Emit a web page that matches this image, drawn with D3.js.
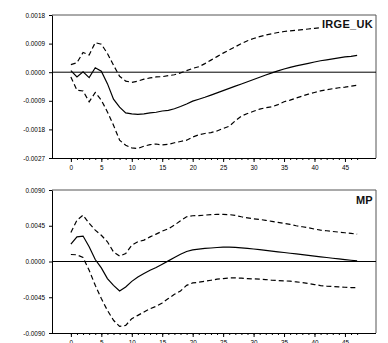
<!DOCTYPE html>
<html>
<head>
<meta charset="utf-8">
<script src="https://cdn.jsdelivr.net/npm/d3@7"></script>
<style>
  body { margin: 0; background: #fff; }
  svg { display: block; }
  .tick text { font-family: "Liberation Sans", Arial, sans-serif; font-size: 6.4px; fill: #000; }
</style>
</head>
<body>
<div id="chart"></div>
<script>
// horizon steps 0..47
var horizon = d3.range(0, 48);
var xTickLabels = [0, 5, 10, 15, 20, 25, 30, 35, 40, 45];

// IRGE_UK response with bands
var irgeMid = [0.00005, -0.00015, 0.00001, -0.00017, 0.00014, 0.00003, -0.00036, -0.00085, -0.0011, -0.00128,
  -0.00131, -0.00133, -0.00131, -0.00128, -0.00126, -0.00122, -0.0012, -0.00115, -0.00108, -0.001,
  -0.00091, -0.00085, -0.00079, -0.00072, -0.00065, -0.00058, -0.00051, -0.00044, -0.00037, -0.0003,
  -0.00023, -0.00016, -0.00009, -0.00002, 0.00004, 0.0001, 0.00015, 0.0002, 0.00024, 0.00028,
  0.00032, 0.00036, 0.00039, 0.00042, 0.00045, 0.00048, 0.0005, 0.00053];
var irgeUp = [0.00024, 0.0003, 0.00062, 0.00054, 0.00093, 0.00088, 0.00059, 0.00022, -0.00013, -0.00028,
  -0.00032, -0.00028, -0.00022, -0.00018, -0.00015, -0.00014, -0.00011, -0.00008, -0.00002, 0.00005,
  0.00012, 0.00017, 0.00027, 0.00038, 0.00049, 0.0006, 0.0007, 0.0008, 0.0009, 0.00099,
  0.00106, 0.00112, 0.00117, 0.00121, 0.00125, 0.00128, 0.0013, 0.00132, 0.00134, 0.00136,
  0.00138, 0.0014, 0.00142, 0.00144, 0.00146, 0.00147, 0.00148, 0.00149];
var irgeLo = [-0.00015, -0.00057, -0.00059, -0.00093, -0.00064, -0.00088, -0.00125, -0.00167, -0.00214, -0.0023,
  -0.00238, -0.0024, -0.00233, -0.00228, -0.00226, -0.00229, -0.00227, -0.00222, -0.00218, -0.00214,
  -0.00204, -0.00197, -0.00193, -0.0019, -0.00185, -0.00177, -0.0017, -0.00153, -0.00138, -0.0013,
  -0.00123, -0.00116, -0.00112, -0.00109, -0.00102, -0.00093, -0.00088, -0.00081, -0.00075, -0.00069,
  -0.00064, -0.00059, -0.00055, -0.00052, -0.00049, -0.00047, -0.00044, -0.00041];

// MP response with bands
var mpMid = [0.00218, 0.0031, 0.0032, 0.00185, 0.00025, -0.0008, -0.00215, -0.003, -0.0037, -0.0032,
  -0.0025, -0.00194, -0.0015, -0.0011, -0.00076, -0.00034, 0.00008, 0.0005, 0.00092, 0.00126,
  0.00146, 0.00155, 0.00164, 0.0017, 0.00176, 0.0018, 0.00182, 0.00178, 0.00172, 0.00165,
  0.00157, 0.00149, 0.0014, 0.00131, 0.00122, 0.00113, 0.00104, 0.00095, 0.00086, 0.00077,
  0.00068, 0.00059, 0.0005, 0.00041, 0.00032, 0.00024, 0.00016, 0.00008];
var mpUp = [0.00366, 0.0052, 0.00584, 0.0048, 0.00395, 0.0033, 0.00248, 0.0012, 0.00067, 0.001,
  0.00206, 0.00248, 0.00269, 0.0031, 0.00345, 0.00382, 0.00412, 0.00458, 0.00512, 0.00563,
  0.00576, 0.00578, 0.00584, 0.0059, 0.00593, 0.00593, 0.0059, 0.0058, 0.00563, 0.0055,
  0.00538, 0.0053, 0.00518, 0.00505, 0.00492, 0.0048, 0.00467, 0.0045, 0.00437, 0.00425,
  0.00408, 0.00395, 0.00387, 0.00378, 0.0037, 0.00362, 0.00353, 0.00345];
var mpLo = [0.00088, 0.00084, 0.0005, -0.0011, -0.003, -0.00467, -0.00615, -0.0074, -0.00817, -0.00804,
  -0.0072, -0.00678, -0.00636, -0.00594, -0.00564, -0.00522, -0.00467, -0.00413, -0.00371, -0.003,
  -0.0027, -0.00261, -0.00248, -0.00236, -0.00223, -0.00215, -0.00207, -0.00207, -0.0021, -0.00215,
  -0.00219, -0.00223, -0.00227, -0.00236, -0.0024, -0.00244, -0.00248, -0.00257, -0.00265, -0.00278,
  -0.0029, -0.00303, -0.00311, -0.00315, -0.0032, -0.00324, -0.00328, -0.00328];

var yTicksIrge = [0.0018, 0.0009, 0, -0.0009, -0.0018, -0.0027];
var yTicksMp = [0.009, 0.0045, 0, -0.0045, -0.009];

var W = 388, H = 343;
var left = 52, right = 376;

var svg = d3.select('#chart').append('svg')
    .attr('width', W)
    .attr('height', H);

var x = d3.scaleLinear().domain([-3.1, 50.1]).range([left, right]);

var lineGen = function(y){
    return d3.line()
        .x(function(d, i){ return x(horizon[i]); })
        .y(function(d){ return y(d); });
};

function drawPanel(p){
    var g = svg.append('g');
    var y = d3.scaleLinear().domain([p.ticks[p.ticks.length - 1], p.ticks[0]]).range([p.bottom, p.top]);

    //frame top and right in grey
    g.append('path')
        .attr('d', 'M' + left + ',' + p.top + 'H' + right + 'V' + p.bottom)
        .attr('fill', 'none')
        .attr('stroke', '#555')
        .attr('stroke-width', 1);

    //zero line
    g.append('line')
        .attr('x1', left).attr('x2', right)
        .attr('y1', y(0)).attr('y2', y(0))
        .attr('stroke', '#000').attr('stroke-width', 1);

    g.append('path').datum(p.up)
        .attr('d', lineGen(y))
        .attr('fill', 'none').attr('stroke', '#000').attr('stroke-width', 1.2)
        .attr('stroke-dasharray', '5,3');
    g.append('path').datum(p.lo)
        .attr('d', lineGen(y))
        .attr('fill', 'none').attr('stroke', '#000').attr('stroke-width', 1.2)
        .attr('stroke-dasharray', '5,3');
    g.append('path').datum(p.mid)
        .attr('d', lineGen(y))
        .attr('fill', 'none').attr('stroke', '#000').attr('stroke-width', 1.2);

    //y axis
    g.append('g')
        .attr('transform', 'translate(' + left + ',0)')
        .call(d3.axisLeft(y).tickValues(p.ticks).tickSize(3).tickSizeOuter(0).tickPadding(4)
            .tickFormat(function(v){ return v.toFixed(4); }));

    //x axis: minor ticks then major with labels
    var ax = g.append('g').attr('transform', 'translate(0,' + p.bottom + ')');
    ax.call(d3.axisBottom(x).tickValues(horizon).tickSize(2).tickSizeOuter(0).tickFormat(''));
    ax.select('.domain').attr('d', 'M' + left + ',0.5H' + right);
    var ax2 = g.append('g').attr('transform', 'translate(0,' + p.bottom + ')');
    ax2.call(d3.axisBottom(x).tickValues(xTickLabels).tickSize(4).tickPadding(3.4).tickFormat(d3.format('d')));
    ax2.select('.domain').remove();

    svg.selectAll('.domain, .tick line').attr('stroke', '#000');

    //series label with white background
    var lab = g.append('g');
    var bg = lab.append('rect').attr('fill', '#fff');
    var t = lab.append('text')
        .attr('x', 373).attr('y', p.labelY)
        .attr('text-anchor', 'end')
        .attr('font-family', '"Liberation Sans", Arial, sans-serif')
        .attr('font-weight', 'bold')
        .attr('font-size', 11)
        .attr('letter-spacing', 0.3)
        .attr('fill', '#111')
        .text(p.name);
    var bb = t.node().getBBox();
    bg.attr('x', bb.x - 1).attr('y', bb.y + 1).attr('width', bb.width + 1).attr('height', bb.height - 2);
}

drawPanel({name: 'IRGE_UK', top: 15, bottom: 158, ticks: yTicksIrge, mid: irgeMid, up: irgeUp, lo: irgeLo, labelY: 28.3});
drawPanel({name: 'MP', top: 190, bottom: 333, ticks: yTicksMp, mid: mpMid, up: mpUp, lo: mpLo, labelY: 203.5});
</script>
</body>
</html>
